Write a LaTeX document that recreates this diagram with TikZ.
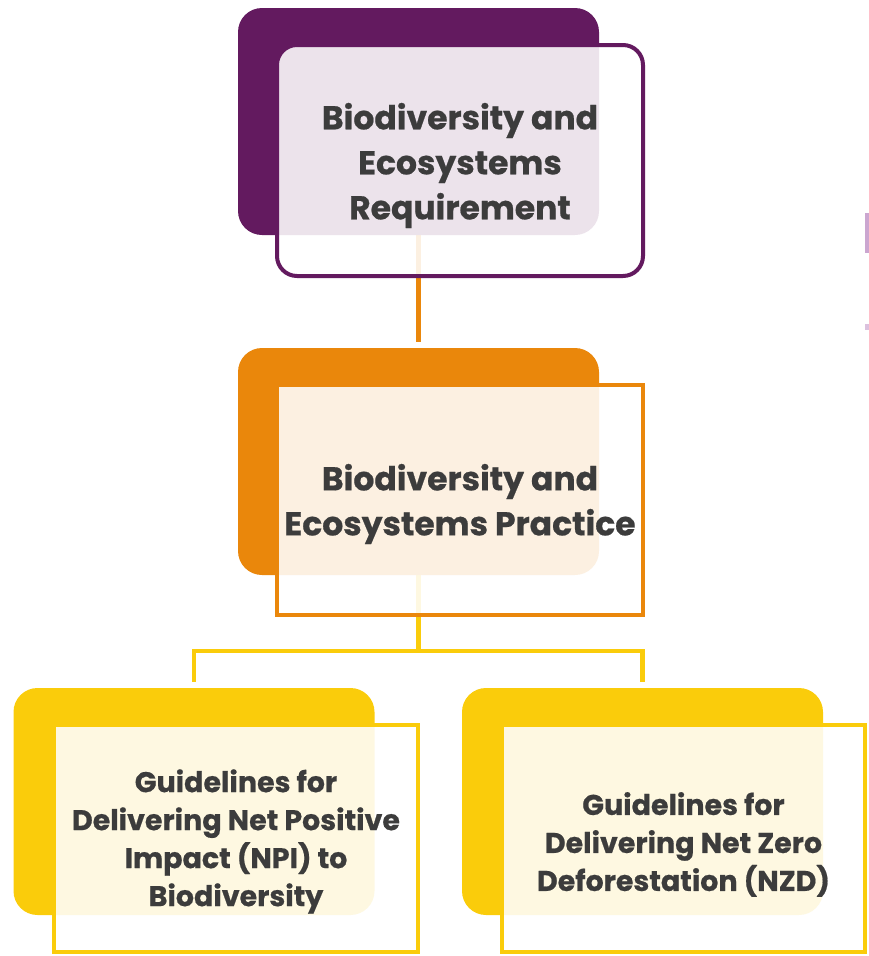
\documentclass[tikz,border=0pt]{standalone}
\usepackage{fontspec}
\newfontfamily\lblfont{Poppins}[BoldFeatures={FakeBold=0.6}]
\usetikzlibrary{calc}
\pgfdeclarelayer{links}
\pgfsetlayers{links,main}

\definecolor{plum}{HTML}{631A5F}
\definecolor{amber}{HTML}{EA870B}
\definecolor{gold}{HTML}{FACC0B}
\definecolor{ink}{HTML}{3C3C3C}
\definecolor{lilac}{HTML}{CBA6D0}

\tikzset{
  backbox/.style={rectangle, rounded corners=24pt, inner sep=0pt,
    minimum width=361pt, minimum height=227pt},
  frontbox/.style={rectangle, line width=4pt, fill=white, fill opacity=0.88,
    inner sep=0pt, minimum width=366pt, minimum height=231pt},
  caption/.style={inner sep=0pt, align=center, text=ink},
  bigtext/.style={caption, font=\lblfont\bfseries\fontsize{33}{45}\selectfont},
  smalltext/.style={caption, font=\lblfont\bfseries\fontsize{28.5}{38}\selectfont},
  link/.style={line width=4.5pt},
}

\begin{document}
\begin{tikzpicture}[x=1pt, y=-1pt]
  \useasboundingbox (0,0) rectangle (869,956);

  % back tiles
  \node[backbox, fill=plum]  (reqback)  at (418.5,121.5) {};
  \node[backbox, fill=amber] (pracback) at (418.5,461.5) {};
  \node[backbox, fill=gold]  (npiback)  at (194,801.5) {};
  \node[backbox, fill=gold]  (nzdback)  at (642.5,801.5) {};

  % front panels
  \node[frontbox, draw=plum, rounded corners=20pt] (req) at (460,160.5) {};
  \node[frontbox, draw=amber, minimum height=230pt] (prac) at (460,500) {};
  \node[frontbox, draw=gold, minimum width=364pt, minimum height=227pt] (npi) at (236,838.5) {};
  \node[frontbox, draw=gold, minimum width=363pt, minimum height=227pt] (nzd) at (683.5,838.5) {};

  % panel captions
  \node[bigtext] (reqtext) at ([yshift=-5pt]req.center)
    {Biodiversity and\\Ecosystems\\Requirement};
  \node[bigtext] (practext) at ([yshift=-4pt]prac.center)
    {Biodiversity and\\Ecosystems Practice};
  \node[smalltext] (npitext) at ([yshift=-3pt]npi.center)
    {Guidelines for\\Delivering Net Positive\\Impact (NPI) to\\Biodiversity};
  \node[smalltext] (nzdtext) at ([yshift=-6pt]nzd.center)
    {Guidelines for\\Delivering Net Zero\\Deforestation (NZD)};

  % connectors behind the panels
  \begin{pgfonlayer}{links}
    \draw[link, draw=amber, shorten >=6pt] (reqback.south) -- (pracback.north);
    \coordinate (bus) at (418.5,651);
    \draw[link, draw=gold] (pracback.south) -- (bus);
    \draw[link, draw=gold, shorten >=6pt] (bus) -| (npiback.north);
    \draw[link, draw=gold, shorten >=6pt] (bus) -| (nzdback.north);
  \end{pgfonlayer}

  % slivers of the neighbouring panel at the right edge
  \fill[lilac] (865,213) rectangle (869,253);
  \fill[lilac!70] (865,324) rectangle (869,330);
\end{tikzpicture}
\end{document}
